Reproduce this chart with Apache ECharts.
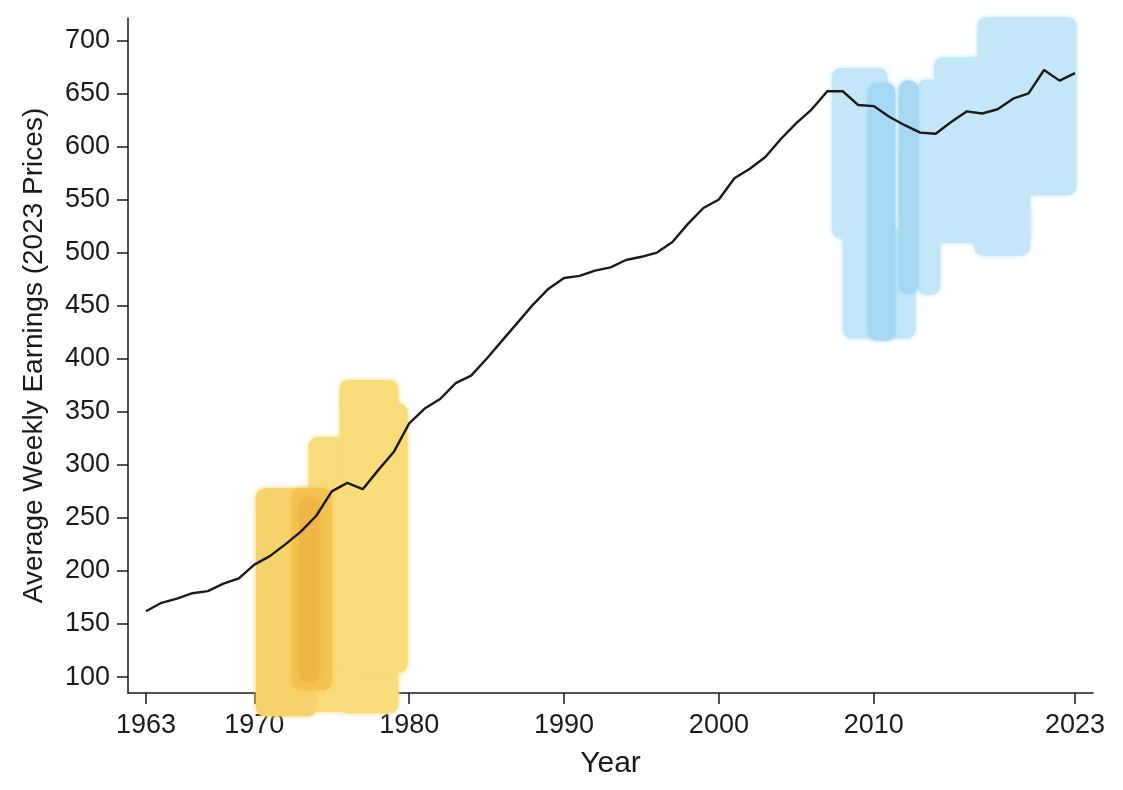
<!DOCTYPE html>
<html>
<head>
<meta charset="utf-8">
<style>html,body{margin:0;padding:0;background:#fff;}#chart{width:1123px;height:790px;}</style>
<script src="https://cdn.jsdelivr.net/npm/echarts@6/dist/echarts.min.js"></script>
</head>
<body>
<div id="chart"></div>
<script>
// average weekly earnings, 2023 prices
const years = [];
for (let y = 1963; y <= 2023; y++) years.push(y);
const earnings = [
  162, 170, 174, 179, 181, 188, 193, 206, 214, 225,
  237, 252, 275, 283, 277, 295, 312, 339, 353, 362,
  377, 384, 400, 417, 434, 451, 466, 476, 478, 483,
  486, 493, 496, 500, 510, 527, 542, 550, 570, 579,
  590, 607, 622, 635, 652, 652, 639, 638, 628, 620,
  613, 612, 623, 633, 631, 635, 645, 650, 672, 662,
  669
];
const xTicks = [1963, 1970, 1980, 1990, 2000, 2010, 2023];
const yTicks = [100, 150, 200, 250, 300, 350, 400, 450, 500, 550, 600, 650, 700];

// highlighter strokes: [yearFrom, yearTo, valueTop, valueBottom]
const yellowLight = [
  [1973.5, 1976.1, 326, 67],
  [1975.5, 1979.3, 380, 66],
  [1976.0, 1979.9, 358, 104]
];
const yellowLeft = [[1970.1, 1974.0, 278, 63]];
const orangeMid = [[1972.4, 1975.0, 278, 88]];
const orangeCore = [[1972.9, 1974.2, 270, 95]];
const blueLight = [
  [2007.3, 2010.9, 674, 513],
  [2008.0, 2012.7, 521, 419],
  [2012.8, 2014.3, 663, 460],
  [2013.9, 2020.1, 684, 509],
  [2016.5, 2020.1, 549, 497],
  [2016.7, 2023.1, 722, 554]
];
const blueDark = [
  [2009.6, 2011.4, 660, 417],
  [2011.6, 2012.9, 662, 461]
];

function strokeItem(params, api) {
  const a = api.coord([api.value(0), api.value(2)]);
  const b = api.coord([api.value(1), api.value(3)]);
  const st = api.style();
  return {
    type: 'rect',
    shape: { x: a[0], y: a[1], width: b[0] - a[0], height: b[1] - a[1], r: 9 },
    style: Object.assign(st, { shadowBlur: 5, shadowColor: st.fill })
  };
}

function strokeSeries(data, color, z) {
  return {
    type: 'custom',
    renderItem: strokeItem,
    data: data,
    encode: { x: [0, 1], y: [2, 3] },
    itemStyle: { color: color },
    clip: false,
    silent: true,
    z: z
  };
}

const font = 'Liberation Sans, Arial, Helvetica, sans-serif';
const chart = echarts.init(document.getElementById('chart'), null, { renderer: 'canvas' });

chart.setOption({
  animation: false,
  backgroundColor: '#fff',
  grid: { left: 128, right: 30, top: 18, bottom: 97 },
  xAxis: {
    type: 'value',
    min: 1961.84,
    max: 2024.16,
    name: 'Year',
    nameLocation: 'middle',
    nameGap: 56,
    nameTextStyle: { fontFamily: font, fontSize: 30, color: '#1a1a1a' },
    axisLine: { show: true, onZero: false, lineStyle: { color: '#1a1a1a', width: 1.5 } },
    axisTick: { show: true, length: 11, customValues: xTicks, lineStyle: { color: '#1a1a1a', width: 1.5 } },
    axisLabel: { customValues: xTicks, margin: 19, fontFamily: font, fontSize: 27, color: '#1a1a1a', formatter: v => String(v) },
    splitLine: { show: false }
  },
  yAxis: {
    type: 'value',
    min: 85,
    max: 721,
    name: 'Average Weekly Earnings (2023 Prices)',
    nameLocation: 'middle',
    nameGap: 80,
    nameTextStyle: { fontFamily: font, fontSize: 28, color: '#1a1a1a' },
    axisLine: { show: true, onZero: false, lineStyle: { color: '#1a1a1a', width: 1.5 } },
    axisTick: { show: true, length: 11, customValues: yTicks, lineStyle: { color: '#1a1a1a', width: 1.5 } },
    axisLabel: { customValues: yTicks, margin: 18, fontFamily: font, fontSize: 27, color: '#1a1a1a' },
    splitLine: { show: false }
  },
  series: [
    strokeSeries(yellowLight, '#F8DC79', 1),
    strokeSeries(yellowLeft, '#F6D26B', 2),
    strokeSeries(orangeMid, '#F3C251', 3),
    strokeSeries(orangeCore, '#F0B645', 4),
    strokeSeries(blueLight, '#C3E6F8', 1),
    strokeSeries(blueDark, '#A6D8F4', 2),
    {
      type: 'line',
      data: years.map((y, i) => [y, earnings[i]]),
      showSymbol: false,
      lineStyle: { color: '#1a1a1a', width: 2.4 },
      z: 10
    }
  ]
});
</script>
</body>
</html>
